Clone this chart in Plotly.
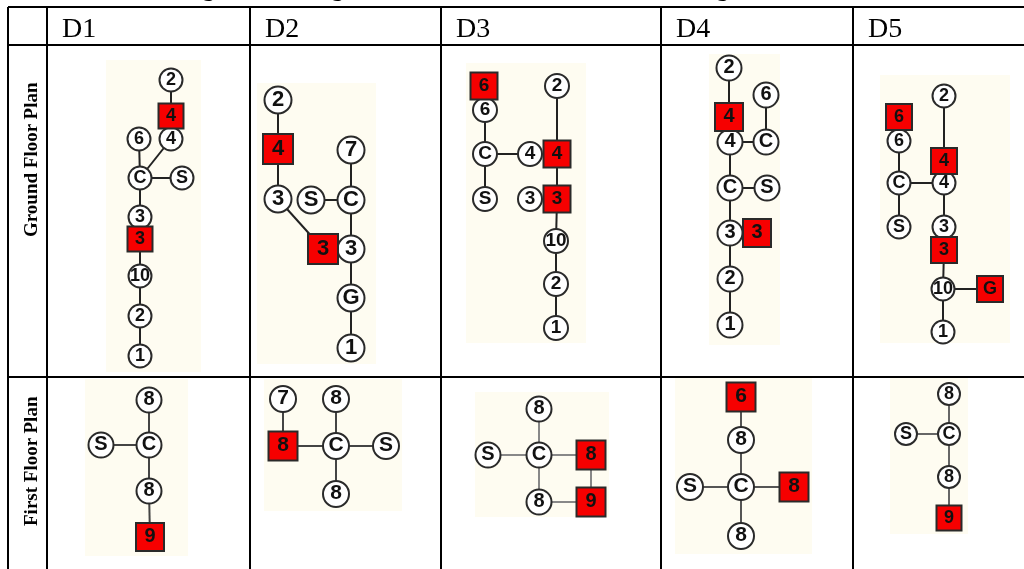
import plotly.graph_objects as go

COLUMN_HEADS = ["D1", "D2", "D3", "D4", "D5"]
HEAD_X = [60, 263, 454, 674, 866]
ROW_HEADS = ["Ground Floor Plan", "First Floor Plan"]
ROW_Y = [160, 461]

V_LINES = [8, 47, 250, 441, 661, 853]
H_LINES = [7, 45, 377]

TITLE_TAILS = ["g", "g", "g"]
TITLE_TAIL_X = [208, 337, 722]

# Each panel: backdrop box, then node labels / x / y / kind (c circle, s square), edges
D1G = dict(box=(106, 60, 201, 372), r=23, sq=25, grey="#222222",
    labels=["2", "4", "4", "6", "C", "S", "3", "3", "10", "2", "1"],
    x=[171, 171, 171, 139, 140, 182, 140, 140, 140, 140, 140],
    y=[80, 116, 139, 139, 178, 178, 217, 239, 276, 316, 356],
    kind="cs" + "cccc" + "c" + "s" + "ccc",
    edges=[(0,1),(1,2),(2,4),(3,4),(4,5),(4,6),(6,7),(7,8),(8,9),(9,10)])
D2G = dict(box=(257, 83, 376, 364), r=27, sq=30, grey="#222222",
    labels=["2", "4", "3", "S", "C", "7", "3", "3", "G", "1"],
    x=[278, 278, 278, 311, 351, 351, 323, 351, 351, 351],
    y=[100, 149, 199, 200, 200, 150, 249, 249, 298, 348],
    kind="csccccsccc",
    edges=[(0,1),(1,2),(2,6),(3,4),(4,5),(4,7),(7,8),(8,9)])
D3G = dict(box=(466, 63, 586, 343), r=24, sq=27, grey="#222222",
    labels=["6", "6", "C", "S", "4", "4", "3", "3", "2", "10", "2", "1"],
    x=[484, 485, 485, 485, 530, 557, 530, 557, 557, 556, 556, 556],
    y=[86, 110, 154, 199, 154, 154, 199, 199, 86, 241, 284, 328],
    kind="scccc" + "s" + "c" + "s" + "cccc",
    edges=[(0,1),(1,2),(2,3),(2,4),(8,5),(5,7),(7,9),(9,10),(10,11)])
D4G = dict(box=(709, 54, 780, 345), r=25, sq=28, grey="#222222",
    labels=["2", "4", "4", "C", "6", "C", "S", "3", "3", "2", "1"],
    x=[729, 729, 730, 766, 766, 730, 767, 730, 757, 730, 730],
    y=[68, 117, 142, 142, 95, 188, 188, 233, 233, 279, 325],
    kind="csccccccscc",
    edges=[(0,1),(1,2),(2,3),(3,4),(2,5),(5,6),(5,7),(7,9),(9,10)])
D5G = dict(box=(880, 75, 1010, 343), r=23, sq=26, grey="#222222",
    labels=["2", "6", "6", "C", "S", "4", "4", "3", "3", "10", "G", "1"],
    x=[944, 899, 899, 899, 899, 944, 944, 944, 944, 943, 990, 943],
    y=[96, 117, 141, 183, 227, 161, 183, 227, 250, 289, 289, 332],
    kind="cs" + "ccc" + "s" + "cc" + "s" + "c" + "s" + "c",
    edges=[(0,5),(1,2),(2,3),(3,4),(3,6),(5,6),(6,7),(7,8),(8,9),(9,10),(9,11)])
D1F = dict(box=(85, 379, 188, 556), r=25, sq=28, grey="#444444",
    labels=["8", "C", "S", "8", "9"],
    x=[149, 149, 101, 149, 150],
    y=[400, 445, 445, 491, 537],
    kind="cccc" + "s",
    edges=[(0,1),(1,2),(1,3),(3,4)])
D2F = dict(box=(264, 379, 402, 511), r=26, sq=29, grey="#444444",
    labels=["7", "8", "8", "C", "S", "8"],
    x=[283, 336, 283, 336, 386, 336],
    y=[399, 399, 446, 446, 446, 494],
    kind="cc" + "s" + "ccc",
    edges=[(0,2),(2,3),(1,3),(3,4),(3,5)])
D3F = dict(box=(475, 392, 609, 517), r=25, sq=29, grey="#888888",
    labels=["8", "C", "S", "8", "8", "9"],
    x=[539, 539, 488, 591, 539, 591],
    y=[409, 455, 455, 455, 502, 502],
    kind="ccc" + "s" + "c" + "s",
    edges=[(0,1),(1,2),(1,3),(1,4),(3,5),(4,5)])
D4F = dict(box=(675, 378, 812, 554), r=26, sq=29, grey="#555555",
    labels=["6", "8", "C", "S", "8", "8"],
    x=[741, 741, 741, 690, 794, 741],
    y=[397, 440, 487, 487, 487, 536],
    kind="s" + "ccc" + "s" + "c",
    edges=[(0,1),(1,2),(2,3),(2,4),(2,5)])
D5F = dict(box=(890, 378, 968, 534), r=22, sq=25, grey="#666666",
    labels=["8", "C", "S", "8", "9"],
    x=[949, 949, 906, 949, 949],
    y=[394, 434, 434, 477, 518],
    kind="cccc" + "s",
    edges=[(0,1),(1,2),(1,3),(3,4)])

PANELS = [D1G, D2G, D3G, D4G, D5G, D1F, D2F, D3F, D4F, D5F]

fig = go.Figure()
shapes = []
for p in PANELS:
    x0, y0, x1, y1 = p["box"]
    shapes.append(dict(type="rect", xref="x", yref="y", x0=x0, y0=y0, x1=x1, y1=y1,
                       fillcolor="#FEFCF1", line=dict(width=0), layer="below"))
for vx in V_LINES:
    shapes.append(dict(type="line", xref="x", yref="y", x0=vx, x1=vx, y0=7, y1=569,
                       line=dict(color="black", width=2)))
for hy in H_LINES:
    shapes.append(dict(type="line", xref="x", yref="y", x0=8, x1=1024, y0=hy, y1=hy,
                       line=dict(color="black", width=2)))

for p in PANELS:
    ex, ey = [], []
    for a, b in p["edges"]:
        ex += [p["x"][a], p["x"][b], None]
        ey += [p["y"][a], p["y"][b], None]
    fig.add_trace(go.Scatter(x=ex, y=ey, mode="lines", hoverinfo="skip",
                             line=dict(color=p["grey"], width=2)))
    for kind, symbol, size, fill in (("c", "circle", p["r"], "white"), ("s", "square", p["sq"], "#F60000")):
        idx = [i for i, k in enumerate(p["kind"]) if k == kind]
        fig.add_trace(go.Scatter(
            x=[p["x"][i] for i in idx], y=[p["y"][i] for i in idx],
            text=[p["labels"][i] for i in idx],
            mode="markers+text", textposition="middle center",
            marker=dict(symbol=symbol, size=size, color=fill,
                        line=dict(color="#2A2A2A", width=2)),
            textfont=dict(family="Liberation Sans", size=round(p["r"] * 0.8), color="#111111",
                          weight="bold"),
            cliponaxis=False))

annotations = []
for t, hx in zip(COLUMN_HEADS, HEAD_X):
    annotations.append(dict(x=hx, y=27, text=t, xref="x", yref="y", showarrow=False,
                            xanchor="left", yanchor="middle",
                            font=dict(family="Liberation Serif", size=28, color="black")))
for t, ry in zip(ROW_HEADS, ROW_Y):
    annotations.append(dict(x=30, y=ry, text="<b>%s</b>" % t, xref="x", yref="y", showarrow=False,
                            textangle=-90, xanchor="center", yanchor="middle",
                            font=dict(family="Liberation Serif", size=19, color="black")))
for t, tx in zip(TITLE_TAILS, TITLE_TAIL_X):
    annotations.append(dict(x=tx, y=3, text=t, xref="x", yref="y", showarrow=False,
                            xanchor="center", yanchor="bottom", borderpad=0,
                            font=dict(family="Liberation Serif", size=26, color="black")))

fig.update_layout(
    width=1024, height=569, margin=dict(l=0, r=0, t=0, b=0),
    paper_bgcolor="white", plot_bgcolor="white", showlegend=False,
    xaxis=dict(range=[0, 1024], visible=False, fixedrange=True),
    yaxis=dict(range=[569, 0], visible=False, fixedrange=True),
    shapes=shapes, annotations=annotations,
)
fig.write_html("out.html", config=dict(displayModeBar=False), post_script="""
document.body.style.margin='0';
document.body.style.overflow='hidden';
document.querySelectorAll('.scatterlayer').forEach(function(e){e.style.filter='blur(0.45px)';});
""")
